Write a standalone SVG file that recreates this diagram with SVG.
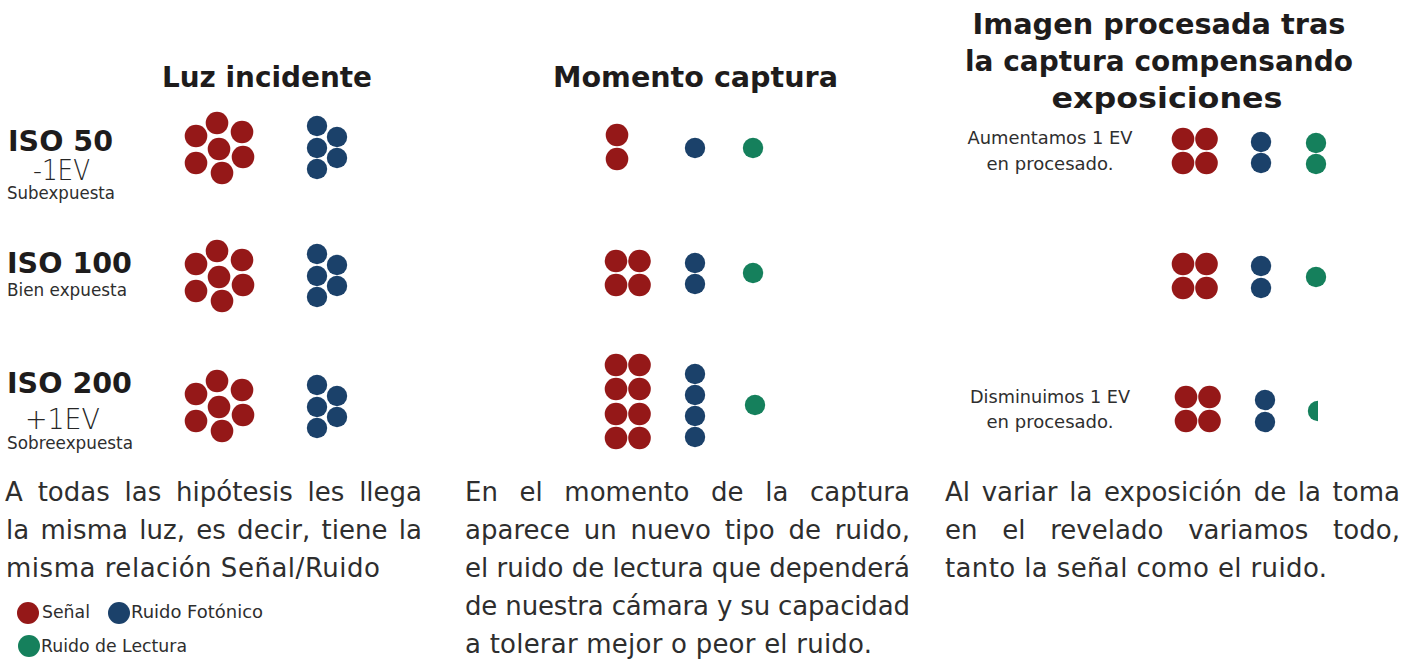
<svg xmlns="http://www.w3.org/2000/svg" xmlns:xlink="http://www.w3.org/1999/xlink" width="1418" height="659" viewBox="0 0 1418 659">
<style>
.s{fill:#951818}
.f{fill:#1b416a}
.r{fill:#15805c}
.h{font-family:"DejaVu Sans","Liberation Sans",sans-serif;font-weight:bold;fill:#1e1c1c}
.b{font-family:"DejaVu Sans","Liberation Sans",sans-serif;fill:#2e2e2e}
.lt{font-family:"DejaVu Sans","Liberation Sans",sans-serif;font-weight:300;fill:#262626}
</style>
<defs>
<g id="sig7">
<circle class="s" cx="217" cy="123" r="11.3"/>
<circle class="s" cx="196" cy="136" r="11.3"/>
<circle class="s" cx="242" cy="132" r="11.3"/>
<circle class="s" cx="219" cy="149" r="11.3"/>
<circle class="s" cx="196" cy="163" r="11.3"/>
<circle class="s" cx="243" cy="157" r="11.3"/>
<circle class="s" cx="222" cy="173" r="11.3"/>
</g>
<g id="ph5">
<circle class="f" cx="317" cy="126" r="10.2"/>
<circle class="f" cx="337" cy="137" r="10.2"/>
<circle class="f" cx="317" cy="148" r="10.2"/>
<circle class="f" cx="337" cy="158" r="10.2"/>
<circle class="f" cx="317" cy="169" r="10.2"/>
</g>
<g id="sig4">
<circle class="s" cx="0" cy="0" r="11.3"/>
<circle class="s" cx="23.5" cy="0" r="11.3"/>
<circle class="s" cx="0" cy="24" r="11.3"/>
<circle class="s" cx="23.5" cy="24" r="11.3"/>
</g>
</defs>

<g id="headers">
<text class="h" x="162" y="87" font-size="28" textLength="210" lengthAdjust="spacingAndGlyphs">Luz incidente</text>
<text class="h" x="553" y="87" font-size="28" textLength="285" lengthAdjust="spacingAndGlyphs">Momento captura</text>
<text class="h" x="1159" y="34" font-size="29" text-anchor="middle" textLength="373" lengthAdjust="spacingAndGlyphs">Imagen procesada tras</text>
<text class="h" x="1159" y="71" font-size="29" text-anchor="middle" textLength="388" lengthAdjust="spacingAndGlyphs">la captura compensando</text>
<text class="h" x="1167" y="108" font-size="29" text-anchor="middle" textLength="231" lengthAdjust="spacingAndGlyphs">exposiciones</text>
</g>

<g id="row-iso50">
<text class="h" x="8" y="151" font-size="28.5" textLength="105" lengthAdjust="spacingAndGlyphs">ISO 50</text>
<text class="lt" x="33" y="180" font-size="28" textLength="57" lengthAdjust="spacingAndGlyphs">-1EV</text>
<text class="b" x="7" y="199" font-size="17" textLength="108" lengthAdjust="spacingAndGlyphs">Subexpuesta</text>
</g>
<g id="row-iso100">
<text class="h" x="7" y="273" font-size="28.5" textLength="125" lengthAdjust="spacingAndGlyphs">ISO 100</text>
<text class="b" x="7" y="296" font-size="17" textLength="120" lengthAdjust="spacingAndGlyphs">Bien expuesta</text>
</g>
<g id="row-iso200">
<text class="h" x="7" y="393" font-size="28.5" textLength="125" lengthAdjust="spacingAndGlyphs">ISO 200</text>
<text class="lt" x="25" y="429" font-size="28" textLength="75" lengthAdjust="spacingAndGlyphs">+1EV</text>
<text class="b" x="7" y="449" font-size="17" textLength="126" lengthAdjust="spacingAndGlyphs">Sobreexpuesta</text>
</g>

<g id="luz-incidente">
<use xlink:href="#sig7"/>
<use xlink:href="#ph5"/>
<use xlink:href="#sig7" transform="translate(0,128)"/>
<use xlink:href="#ph5" transform="translate(0,128)"/>
<use xlink:href="#sig7" transform="translate(0,258)"/>
<use xlink:href="#ph5" transform="translate(0,259)"/>
</g>

<g id="momento-captura">
<circle class="s" cx="617" cy="135" r="11.3"/>
<circle class="s" cx="617" cy="159" r="11.3"/>
<circle class="f" cx="695" cy="148" r="10.2"/>
<circle class="r" cx="753" cy="148" r="10.2"/>
<use xlink:href="#sig4" transform="translate(616,261)"/>
<circle class="f" cx="695" cy="263" r="10.2"/>
<circle class="f" cx="695" cy="284" r="10.2"/>
<circle class="r" cx="753" cy="273" r="10.2"/>
<use xlink:href="#sig4" transform="translate(616,365)"/>
<use xlink:href="#sig4" transform="translate(616,414)"/>
<circle class="f" cx="695" cy="374" r="10.2"/>
<circle class="f" cx="695" cy="395" r="10.2"/>
<circle class="f" cx="695" cy="416" r="10.2"/>
<circle class="f" cx="695" cy="437" r="10.2"/>
<circle class="r" cx="755" cy="405" r="10.2"/>
</g>

<g id="procesada">
<text class="b" x="1050" y="144" font-size="18" text-anchor="middle" textLength="165" lengthAdjust="spacingAndGlyphs">Aumentamos 1 EV</text>
<text class="b" x="1050" y="170" font-size="18" text-anchor="middle" textLength="127" lengthAdjust="spacingAndGlyphs">en procesado.</text>
<use xlink:href="#sig4" transform="translate(1183,139)"/>
<circle class="f" cx="1261" cy="142" r="10.2"/>
<circle class="f" cx="1261" cy="163" r="10.2"/>
<circle class="r" cx="1316" cy="143" r="10.2"/>
<circle class="r" cx="1316" cy="164" r="10.2"/>
<use xlink:href="#sig4" transform="translate(1183,264)"/>
<circle class="f" cx="1261" cy="266" r="10.2"/>
<circle class="f" cx="1261" cy="288" r="10.2"/>
<circle class="r" cx="1316" cy="277" r="10.2"/>
<text class="b" x="1050" y="403" font-size="18" text-anchor="middle" textLength="160" lengthAdjust="spacingAndGlyphs">Disminuimos 1 EV</text>
<text class="b" x="1050" y="428" font-size="18" text-anchor="middle" textLength="127" lengthAdjust="spacingAndGlyphs">en procesado.</text>
<use xlink:href="#sig4" transform="translate(1186,397)"/>
<circle class="f" cx="1265" cy="400" r="10.2"/>
<circle class="f" cx="1265" cy="422" r="10.2"/>
<path class="r" d="M1318,400.8 A10.2,10.2 0 0 0 1318,421.2 Z"/>
</g>

<g id="texto-luz" class="b" font-size="26">
<text x="5" y="501" word-spacing="6.6" textLength="417" lengthAdjust="spacing">A todas las hipótesis les llega</text>
<text x="6" y="539" word-spacing="3" textLength="416" lengthAdjust="spacing">la misma luz, es decir, tiene la</text>
<text x="6" y="577" textLength="374" lengthAdjust="spacing">misma relación Señal/Ruido</text>
</g>

<g id="texto-captura" class="b" font-size="26">
<text x="465" y="501" word-spacing="13.3" textLength="445" lengthAdjust="spacing">En el momento de la captura</text>
<text x="465" y="539" word-spacing="5.5" textLength="445" lengthAdjust="spacing">aparece un nuevo tipo de ruido,</text>
<text x="465" y="577" textLength="445" lengthAdjust="spacing">el ruido de lectura que dependerá</text>
<text x="465" y="615" textLength="445" lengthAdjust="spacing">de nuestra cámara y su capacidad</text>
<text x="465" y="653" textLength="407" lengthAdjust="spacing">a tolerar mejor o peor el ruido.</text>
</g>

<g id="texto-procesada" class="b" font-size="26">
<text x="945" y="501" word-spacing="3.3" textLength="455" lengthAdjust="spacing">Al variar la exposición de la toma</text>
<text x="945" y="539" word-spacing="16.4" textLength="455" lengthAdjust="spacing">en el revelado variamos todo,</text>
<text x="945" y="577" textLength="382" lengthAdjust="spacing">tanto la señal como el ruido.</text>
</g>

<g id="leyenda">
<circle class="s" cx="28" cy="613" r="11"/>
<text class="b" x="42" y="618" font-size="18" textLength="48" lengthAdjust="spacingAndGlyphs">Señal</text>
<circle class="f" cx="119" cy="613" r="11"/>
<text class="b" x="131" y="618" font-size="18" textLength="132" lengthAdjust="spacingAndGlyphs">Ruido Fotónico</text>
<circle class="r" cx="29" cy="646" r="11"/>
<text class="b" x="41" y="652" font-size="18" textLength="146" lengthAdjust="spacingAndGlyphs">Ruido de Lectura</text>
</g>
</svg>
